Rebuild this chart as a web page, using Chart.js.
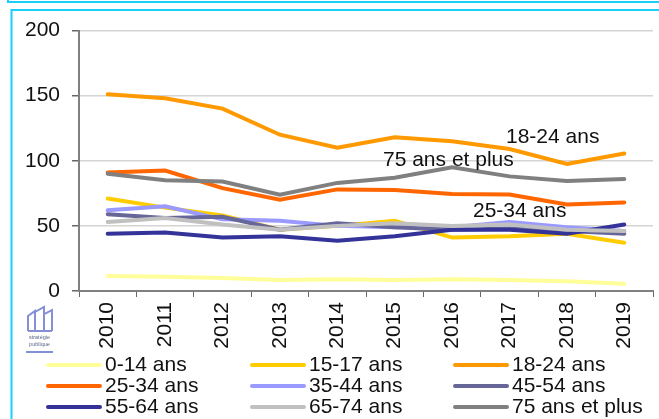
<!DOCTYPE html>
<html>
<head>
<meta charset="utf-8">
<style>
html,body{margin:0;padding:0;background:#fff;overflow:hidden}
#wrap{position:relative;width:659px;height:419px}
canvas{display:block}
</style>
<script src="https://cdn.jsdelivr.net/npm/chart.js@4"></script>
</head>
<body>
<div id="wrap"><canvas id="c" width="659" height="419"></canvas></div>
<script>
const years = ["2010","2011","2012","2013","2014","2015","2016","2017","2018","2019"];
const yTicks = [0,50,100,150,200];
const names = ["0-14 ans","15-17 ans","18-24 ans","25-34 ans","35-44 ans","45-54 ans","55-64 ans","65-74 ans","75 ans et plus"];
const colors = ["#FFFF99","#FFCC00","#FF9900","#FF6600","#9999FF","#666699","#333399","#C0C0C0","#808080"];
const s0014 = [11.5,11,10,8.5,9,8.5,9,8.5,7.5,5.5];
const s1517 = [71,64,58,47,50,54,41,42,44,37];
const s1824 = [151,148,140,120,110,118,115,109,97.5,105.5];
const s2534 = [91,92.5,79,70,78,77.5,74.5,74,66.5,68];
const s3544 = [62,65,55,54,50,49,49,53,49,46];
const s4554 = [59,56,57,47,52,49,47,48,46,44];
const s5564 = [44,45,41,42,38.5,42,47,47,44,51];
const s6574 = [53,56,51,47,50,52,50,51,47,46];
const s75 = [90,85,84,74,83,87,95,88,84.5,86];
const allSeries = [s0014,s1517,s1824,s2534,s3544,s4554,s5564,s6574,s75];
const noteTexts = ["18-24 ans","75 ans et plus","25-34 ans"];

const FONT = '"Liberation Sans", Arial, sans-serif';
const SIZE = 21;

const decor = {
  id:'decor',
  beforeDraw(chart){
    const g = chart.ctx;
    g.save();
    g.strokeStyle = '#19CFFF';
    g.lineWidth = 2;
    g.beginPath(); g.moveTo(8,0); g.lineTo(8,2); g.lineTo(659,2); g.stroke();
    g.beginPath(); g.moveTo(11.5,419); g.lineTo(11.5,10); g.lineTo(659,10); g.stroke();
    g.restore();
  },
  afterDraw(chart){
    const g = chart.ctx;
    g.save();
    g.font = SIZE+'px '+FONT;
    g.fillStyle = '#111';
    g.textBaseline = 'middle';
    g.textAlign = 'left';
    // legend, three columns
    const colX = [46,250,453], rowY = [365,386,407];
    chart.data.datasets.forEach((d,i)=>{
      const x = colX[i%3], y = rowY[Math.floor(i/3)];
      g.strokeStyle = d.borderColor; g.lineWidth = 4; g.lineCap = 'round';
      g.beginPath(); g.moveTo(x+2,y); g.lineTo(x+54,y); g.stroke();
      g.fillText(d.label, x+59, y+0.5);
    });
    // annotations
    g.fillText(noteTexts[0],506,137);
    g.fillText(noteTexts[1],383,160);
    g.fillText(noteTexts[2],473,211);
    // logo
    g.strokeStyle = '#8390d6'; g.lineWidth = 2; g.lineCap='butt'; g.lineJoin='miter';
    g.beginPath();
    g.moveTo(28,331); g.lineTo(28,316); g.lineTo(35,311); g.lineTo(35,331);
    g.moveTo(35,331); g.lineTo(35,312); g.lineTo(44,307); g.lineTo(44,331);
    g.moveTo(44,331); g.lineTo(44,314); g.lineTo(52,310); g.lineTo(52,331);
    g.moveTo(28,331); g.lineTo(52,331);
    g.stroke();
    g.fillStyle = '#5a6488'; g.font = '5.5px '+FONT; g.textAlign='center';
    g.fillText('stratégie',39.5,337);
    g.fillText('publique',39.5,344);
    g.fillStyle = '#8390d6'; g.fillRect(26,351,27,2);
    g.restore();
  }
};

new Chart(document.getElementById('c'),{
  type:'line',
  data:{
    labels:years,
    datasets:names.map((n,i)=>({
      label:n,
      data:allSeries[i],
      borderColor:colors[i],
      backgroundColor:colors[i],
      borderWidth:4,
      borderCapStyle:'round',
      borderJoinStyle:'miter',
      pointRadius:0,
      tension:0,
      fill:false,
      order:names.length-i
    }))
  },
  options:{
    responsive:false,
    animation:false,
    layout:{padding:{top:30.5,right:6,left:0,bottom:0}},
    plugins:{legend:{display:false},tooltip:{enabled:false},title:{display:false}},
    scales:{
      x:{
        offset:true,
        afterFit(s){s.height=128;},
        grid:{drawOnChartArea:false,drawTicks:true,tickLength:6,tickColor:'#666',offset:true},
        border:{color:'#808080',width:2},
        ticks:{minRotation:90,maxRotation:90,padding:5,color:'#111',font:{family:FONT,size:SIZE},autoSkip:false}
      },
      y:{
        min:0,max:200,
        afterFit(s){s.width=79;},
        afterBuildTicks(s){s.ticks=yTicks.map(v=>({value:v}));},
        grid:{color:'#D4D4D4',lineWidth:1.5,tickLength:7,tickColor:'#666'},
        border:{color:'#808080',width:2},
        ticks:{padding:12,color:'#111',font:{family:FONT,size:SIZE}}
      }
    }
  },
  plugins:[decor]
});
</script>
</body>
</html>
